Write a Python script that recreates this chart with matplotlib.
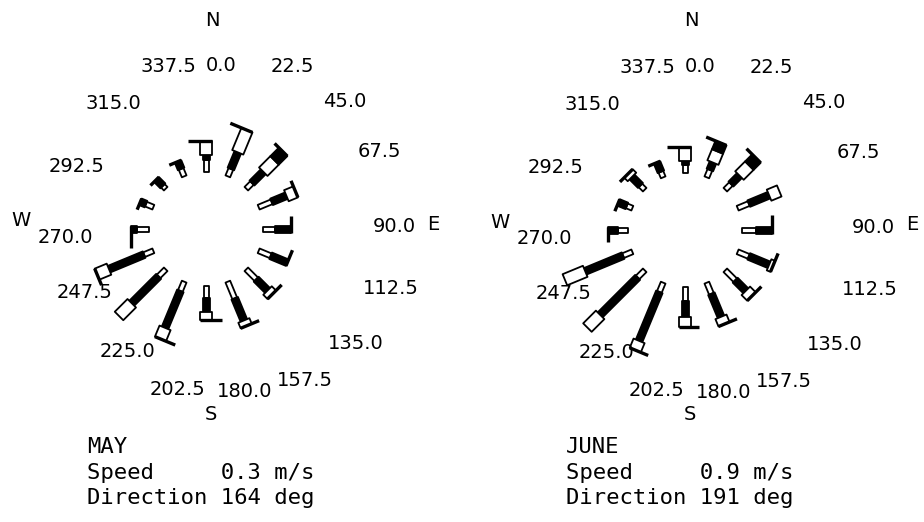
import numpy as np
import matplotlib
matplotlib.use("Agg")
import matplotlib.pyplot as plt
from matplotlib.patches import Polygon

# 16 compass sectors, degrees clockwise from north
directions = np.arange(16) * 22.5

# frequency (%) per speed class, inner -> outer, for each sector
may_c1 = [6, 4, 4, 7, 6, 6.5, 7, 9, 6, 5, 5, 5, 6, 4, 2, 4]
may_c2 = [2.5, 9, 8, 8, 8, 9, 8, 12, 7, 20, 19, 19, 3, 3, 4.5, 4]
may_c3 = [7, 12, 8, 5, 0, 0, 3, 3, 4, 6, 9, 6.5, 0, 0, 0, 0]
may_c4 = [0, 0, 6, 0, 0, 0, 0, 0, 0, 0, 0, 0, 0, 0, 0, 0]
may_c5 = [6, 6, 3, 3, 5, 5, 4, 4, 5, 5, 0, 3, 7.5, 2.5, 2.5, 3]

june_c1 = [4, 4, 4, 6, 7, 6, 7, 6, 7, 5, 5, 5, 5, 3, 3, 3]
june_c2 = [2, 4, 6, 11, 8, 11, 7.5, 12.5, 8, 26.5, 26.5, 20.5, 5, 4.5, 6, 5]
june_c3 = [7, 6, 7, 5.5, 0, 2, 4, 4, 5, 5, 9, 11, 0, 0, 2.5, 0]
june_c4 = [0, 4.5, 5, 0, 0, 0, 0, 0, 0, 0, 0, 0, 0, 0, 0, 0]
june_c5 = [6, 5, 4, 0, 6, 4, 4, 4, 4, 4, 0, 0, 4, 3, 3, 3]

months = ["MAY", "JUNE"]
mean_speed = [0.3, 0.9]
mean_dir = [164, 191]

SCALE = 2.0      # px per percent
R0 = 57          # inner empty circle
R_LAB = 170
widths = [5, 7, 12, 12]
fills = ["white", "black", "white", "black"]

# small hand nudges of the sector labels (px), as in the original plot
lab_dx = [0, 0, -3, -5, -3, 0, 2, 6, 11, 9, 14, 8, 2, 0, 0, 0]
lab_dy = [12, 0, -2, -7, 3, 0, 0, 0, -2, 9, 8, 4, 14, 8, 0, 0]

fig = plt.figure(figsize=(9.24, 5.22), dpi=100)
ax = fig.add_axes([0, 0, 1, 1])
ax.set_xlim(0, 924)
ax.set_ylim(522, 0)
ax.axis("off")

lab_font = dict(family="DejaVu Sans", fontsize=14)
txt_font = dict(family="DejaVu Sans Mono", fontsize=16)


def draw_rose(cx, cy, classes, ticks, name, spd, drc):
    c0 = np.array([cx, cy])
    for i, th in enumerate(directions):
        rad = np.deg2rad(th)
        u = np.array([np.sin(rad), -np.cos(rad)])
        p = np.array([-np.cos(rad), -np.sin(rad)])   # counter-clockwise side
        r = R0
        wlast = widths[0]
        for k in range(4):
            length = classes[k][i] * SCALE
            if length <= 0:
                continue
            w = widths[k]
            r1 = r + length
            pts = [c0 + u * r - p * w / 2, c0 + u * r1 - p * w / 2,
                   c0 + u * r1 + p * w / 2, c0 + u * r + p * w / 2]
            ax.add_patch(Polygon(pts, closed=True, fc=fills[k], ec="black",
                                 lw=1.3, joinstyle="round"))
            r = r1
            wlast = w
        t = ticks[i] * SCALE
        if t > 0:
            e = c0 + u * r
            a0 = e - p * wlast / 2
            a1 = e + p * (wlast / 2 + t)
            ax.plot([a0[0], a1[0]], [a0[1], a1[1]], color="black", lw=2.4,
                    solid_capstyle="butt")
        lp = c0 + u * R_LAB
        ax.text(lp[0] + lab_dx[i], lp[1] + lab_dy[i], f"{th:.1f}",
                ha="left", va="baseline", **lab_font)

    ax.text(cx + 6, cy - 209, "N", ha="center", va="center", **lab_font)
    ax.text(cx + 5, cy + 185, "S", ha="center", va="center", **lab_font)
    ax.text(cx + 227, cy - 5, "E", ha="center", va="center", **lab_font)
    ax.text(cx - 185, cy - 8, "W", ha="center", va="center", **lab_font)

    ax.text(cx - 119, 453, name, ha="left", va="baseline", **txt_font)
    ax.text(cx - 119, 479, f"Speed     {spd:.1f} m/s", ha="left", va="baseline", **txt_font)
    ax.text(cx - 119, 504, f"Direction {drc:d} deg", ha="left", va="baseline", **txt_font)


draw_rose(206, 229, [may_c1, may_c2, may_c3, may_c4], may_c5,
          months[0], mean_speed[0], mean_dir[0])
draw_rose(685, 230, [june_c1, june_c2, june_c3, june_c4], june_c5,
          months[1], mean_speed[1], mean_dir[1])

fig.savefig("out.png", dpi=100)
